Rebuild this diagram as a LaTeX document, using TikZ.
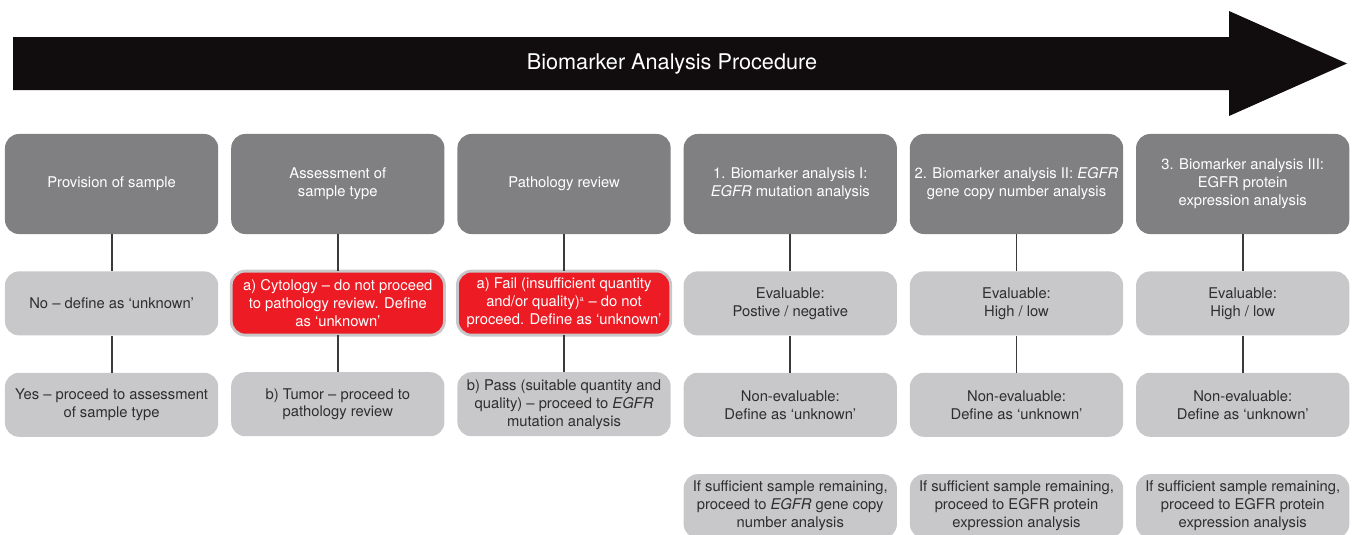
\documentclass[tikz,border=0pt]{standalone}
\usepackage{fontspec}
\setmainfont{TeX Gyre Heros}
\usetikzlibrary{positioning}

\definecolor{stagegray}{HTML}{808083}
\definecolor{resultgray}{HTML}{C8C8CA}
\definecolor{failred}{HTML}{ED1C24}
\definecolor{linkgray}{HTML}{3A3A3A}
\definecolor{bannerblack}{HTML}{110D0E}
\definecolor{textdark}{HTML}{2E2E2E}

\begin{document}
\begin{tikzpicture}[
  x=0.025cm, y=-0.025cm,
  font=\fontsize{10.5}{12.8}\selectfont,
  stage/.style={fill=stagegray, text=white, rounded corners=10pt, minimum width=5.33cm, minimum height=2.5cm, align=center, inner sep=2pt},
  result/.style={fill=resultgray, text=textdark, rounded corners=10pt, minimum width=5.33cm, minimum height=1.6cm, align=center, inner sep=2pt},
  fail/.style={result, fill=failred, text=white, draw=resultgray, line width=2pt, outer sep=0pt},
  link/.style={draw=linkgray, line width=1.4pt},
  node distance=0.92cm and 0.31cm]
\useasboundingbox (0,0) rectangle (1360,534);
\clip (0,0) rectangle (1360,534);

% banner arrow
\fill[bannerblack] (13,37) -- (1229,37) -- (1229,11) -- (1347,63.5) -- (1229,116) -- (1229,90) -- (13,90) -- cycle;
\node[text=white, font=\fontsize{15.4}{18}\selectfont] (banner) at (672,64) {Biomarker Analysis Procedure};

% stages
\node[stage] (prov) at (111.6,184) {Provision of sample};
\node[stage, right=of prov] (assess) {Assessment of\\sample type};
\node[stage, right=of assess] (patho) {Pathology review};
\node[stage, right=of patho] (mut) {1. Biomarker analysis I:\\\textit{EGFR} mutation analysis};
\node[stage, right=of mut] (gcn) {2. Biomarker analysis II: \textit{EGFR}\\gene copy number analysis};
\node[stage, right=of gcn] (prot) {3. Biomarker analysis III:\\EGFR protein\\expression analysis};

% outcomes
\node[result, below=of prov] (prov-no) {No -- define as `unknown'};
\node[result, below=of prov-no] (prov-yes) {Yes -- proceed to assessment\\of sample type};
\node[fail, below=of assess] (assess-cyto) {a) Cytology -- do not proceed\\to pathology review. Define\\as `unknown'};
\node[result, below=of assess-cyto] (assess-tumor) {b) Tumor -- proceed to\\pathology review};
\node[fail, below=of patho] (patho-fail) {a) Fail (insufficient quantity\\and/or quality)\textsuperscript{\tiny a} -- do not\\proceed. Define as `unknown'};
\node[result, below=of patho-fail] (patho-pass) {b) Pass (suitable quantity and\\quality) -- proceed to \textit{EGFR}\\mutation analysis};
\node[result, below=of mut] (mut-eval) {Evaluable:\\Postive / negative};
\node[result, below=of mut-eval] (mut-non) {Non-evaluable:\\Define as `unknown'};
\node[result, below=of mut-non] (mut-next) {If sufficient sample remaining,\\proceed to \textit{EGFR} gene copy\\number analysis};
\node[result, below=of gcn] (gcn-eval) {Evaluable:\\High / low};
\node[result, below=of gcn-eval] (gcn-non) {Non-evaluable:\\Define as `unknown'};
\node[result, below=of gcn-non] (gcn-next) {If sufficient sample remaining,\\proceed to EGFR protein\\expression analysis};
\node[result, below=of prot] (prot-eval) {Evaluable:\\High / low};
\node[result, below=of prot-eval] (prot-non) {Non-evaluable:\\Define as `unknown'};
\node[result, below=of prot-non] (prot-next) {If sufficient sample remaining,\\proceed to EGFR protein\\expression analysis};

% links
\draw[link] (prov) -- (prov-no);
\draw[link] (prov-no) -- (prov-yes);
\draw[link] (assess) -- (assess-cyto);
\draw[link] (assess-cyto) -- (assess-tumor);
\draw[link] (patho) -- (patho-fail);
\draw[link] (patho-fail) -- (patho-pass);
\draw[link] (mut) -- (mut-eval);
\draw[link] (mut-eval) -- (mut-non);
\draw[link] (gcn) -- (gcn-eval);
\draw[link] (gcn-eval) -- (gcn-non);
\draw[link] (prot) -- (prot-eval);
\draw[link] (prot-eval) -- (prot-non);
\end{tikzpicture}
\end{document}
